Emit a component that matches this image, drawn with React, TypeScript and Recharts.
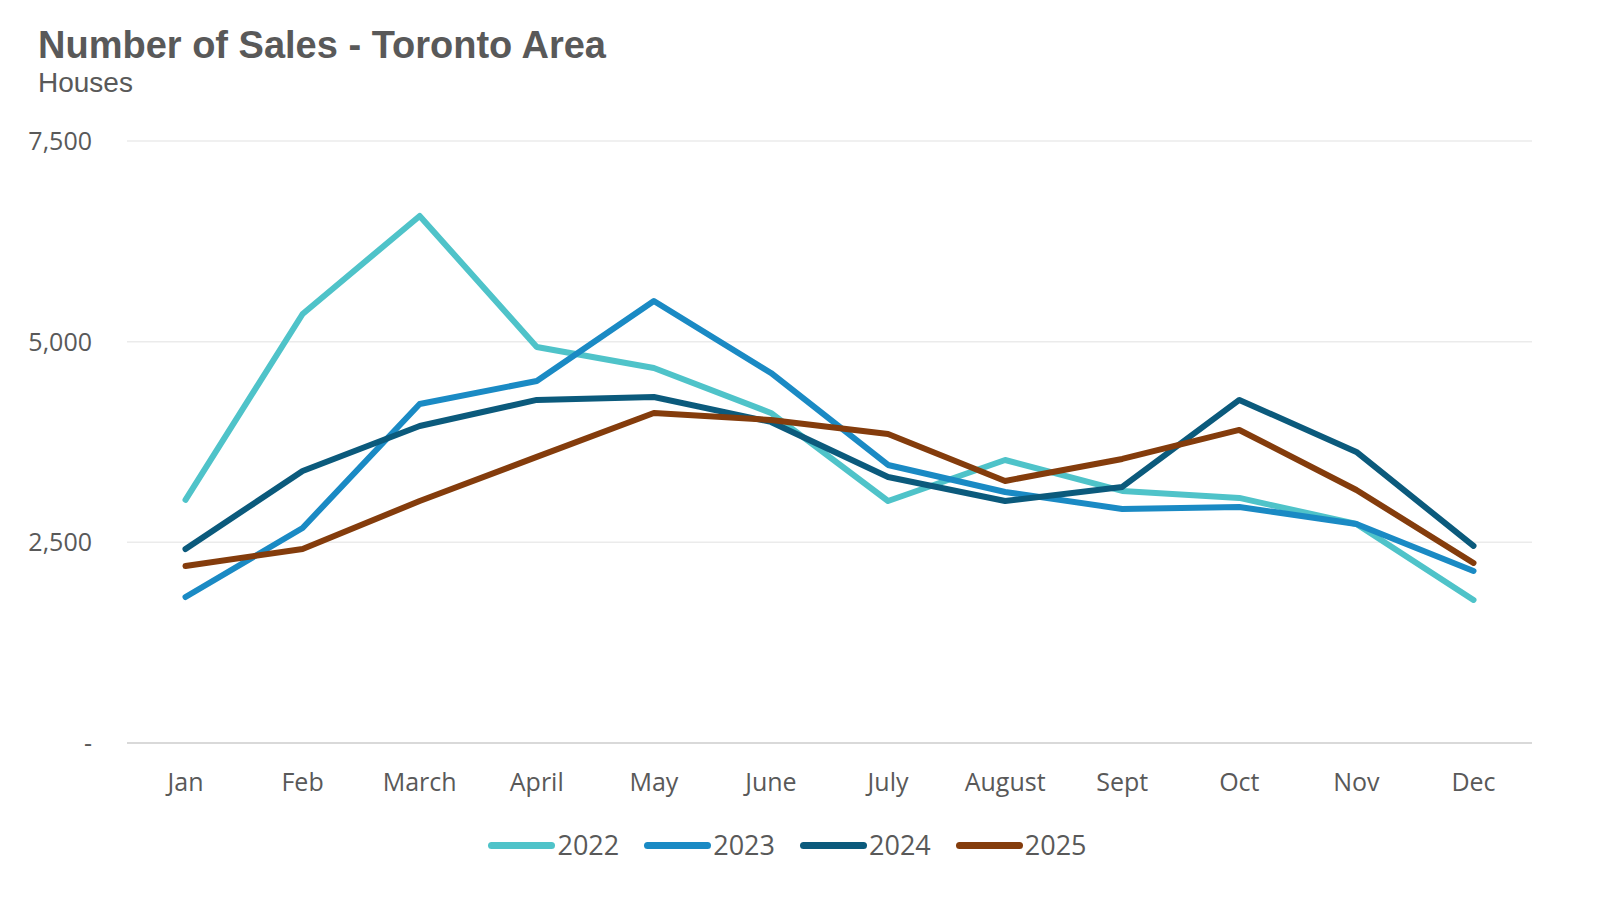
import React from "react";
import { CartesianGrid, Line, LineChart, XAxis, YAxis } from "recharts";

const months = ["Jan", "Feb", "March", "April", "May", "June", "July", "August", "Sept", "Oct", "Nov", "Dec"];
const sales2022 = [3030, 5345, 6566, 4934, 4672, 4112, 3015, 3526, 3140, 3053, 2729, 1782];
const sales2023 = [1819, 2679, 4224, 4510, 5507, 4610, 3464, 3127, 2916, 2941, 2729, 2143];
const sales2024 = [2417, 3389, 3950, 4274, 4311, 4000, 3314, 3015, 3190, 4274, 3626, 2455];
const sales2025 = [2205, 2417, 3015, 3564, 4112, 4025, 3850, 3265, 3539, 3900, 3152, 2243];
const yTicks = [0, 2500, 5000, 7500];

const series = [
  { key: "2022", color: "#4FC3C9" },
  { key: "2023", color: "#1A8AC4" },
  { key: "2024", color: "#0B5A7C" },
  { key: "2025", color: "#843C0C" },
];

const data = months.map((m, i) => ({
  month: m,
  "2022": sales2022[i],
  "2023": sales2023[i],
  "2024": sales2024[i],
  "2025": sales2025[i],
}));

const tickFont = { fontFamily: "'Open Sans', sans-serif", fontSize: 25, fill: "#595959" };

function App() {
  return (
    <div style={{ position: "absolute", left: 0, top: 0, width: 1600, height: 909, background: "#fff" }}>
      <div
        style={{
          position: "absolute",
          left: 38,
          top: 24,
          fontFamily: "'Liberation Sans', Arial, sans-serif",
          fontWeight: "bold",
          fontSize: 38,
          color: "#595959",
          lineHeight: "42px",
        }}
      >
        Number of Sales - Toronto Area
      </div>
      <div
        style={{
          position: "absolute",
          left: 38,
          top: 67,
          fontFamily: "'Liberation Sans', Arial, sans-serif",
          fontSize: 28,
          color: "#595959",
          lineHeight: "32px",
        }}
      >
        Houses
      </div>
      <div style={{ position: "absolute", left: 0, top: 0 }}>
        <LineChart width={1600} height={909} data={data} margin={{ top: 141, right: 68, left: 0, bottom: 0 }}>
          <CartesianGrid vertical={false} stroke="#EBEBEB" strokeWidth={1.5} />
          <XAxis
            dataKey="month"
            height={166}
            padding={{ left: 58.5, right: 58.5 }}
            tickLine={false}
            tickSize={0}
            tickMargin={30}
            axisLine={{ stroke: "#D9D9D9", strokeWidth: 2 }}
            tick={tickFont}
            interval={0}
          />
          <YAxis
            width={127}
            domain={[0, 7500]}
            ticks={yTicks}
            axisLine={false}
            tickLine={false}
            tickSize={0}
            tickMargin={35}
            tick={tickFont}
            tickFormatter={(v) => (v === 0 ? "-" : v.toLocaleString("en-US"))}
          />
          {series.map((s) => (
            <Line
              key={s.key}
              dataKey={s.key}
              stroke={s.color}
              strokeWidth={6}
              strokeLinecap="round"
              strokeLinejoin="round"
              dot={false}
              activeDot={false}
              isAnimationActive={false}
            />
          ))}
        </LineChart>
      </div>
      <div
        style={{
          position: "absolute",
          left: 0,
          width: 1600,
          top: 827,
          display: "flex",
          justifyContent: "center",
          gap: 25,
          paddingRight: 25,
          boxSizing: "border-box",
        }}
      >
        {series.map((s) => (
          <div key={s.key} style={{ display: "flex", alignItems: "center" }}>
            <div style={{ width: 67, height: 7, borderRadius: 4, background: s.color, marginRight: 2 }} />
            <span style={{ fontFamily: "'Open Sans', sans-serif", fontSize: 27, color: "#595959", lineHeight: "36px" }}>
              {s.key}
            </span>
          </div>
        ))}
      </div>
    </div>
  );
}

export default App;
